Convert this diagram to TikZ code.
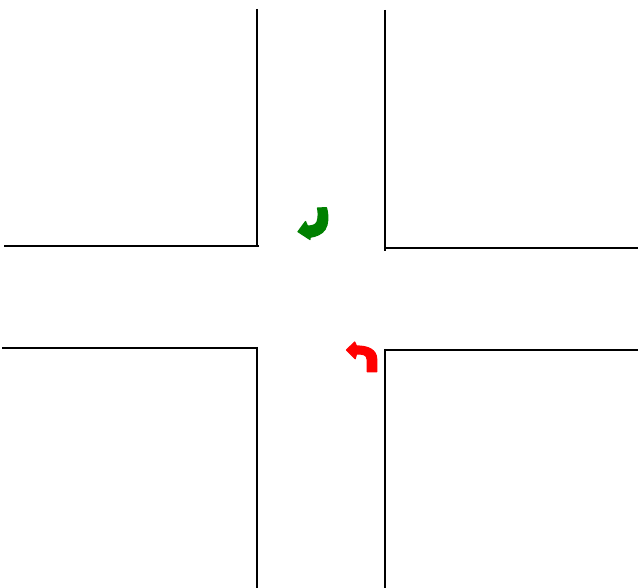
\documentclass[tikz,border=0pt]{standalone}
\tikzset{
  curbline/.style={draw=black,line width=2.4pt},
  turnarrow/.style={line width=1.2pt,line join=round}
}
\definecolor{arrowgreen}{RGB}{0,128,0}
\definecolor{arrowred}{RGB}{255,0,0}
\begin{document}
\begin{tikzpicture}[x=1pt,y=-1pt]
\useasboundingbox (0,0) rectangle (638,588);
% kerb lines
\draw[curbline] (4,246) -- (259,246);
\draw[curbline] (257,9) -- (257,247);
\draw[curbline] (385,10) -- (385,251);
\draw[curbline] (384,248) -- (638,248);
\draw[curbline] (2,348) -- (258,348);
\draw[curbline] (257,347) -- (257,588);
\draw[curbline] (385,349) -- (385,588);
\draw[curbline] (384,350) -- (638,350);
% green turn arrow
\filldraw[draw=arrowgreen,fill=arrowgreen,turnarrow] (317.5,208) -- (326.5,207.7)
  .. controls (328.5,216) and (328.5,224) .. (325,229.5)
  .. controls (322,234) and (316,236.5) .. (310,237.3)
  -- (310,239.5) -- (298,231.7) -- (305.5,221.5) -- (307.5,226)
  .. controls (311,226) and (315.5,225.5) .. (317,222)
  .. controls (318.5,218) and (318.5,212) .. (317.5,208) -- cycle;
% red turn arrow
\filldraw[draw=arrowred,fill=arrowred,turnarrow] (367.3,371.8) -- (376.7,371.8) -- (376.7,359)
  .. controls (376.7,350) and (368,345.8) .. (356.5,346)
  -- (354.7,342) -- (346.5,350) -- (355.2,358.7) -- (356.5,354)
  .. controls (361,354) and (367.3,353.5) .. (367.3,360) -- cycle;
\end{tikzpicture}
\end{document}
